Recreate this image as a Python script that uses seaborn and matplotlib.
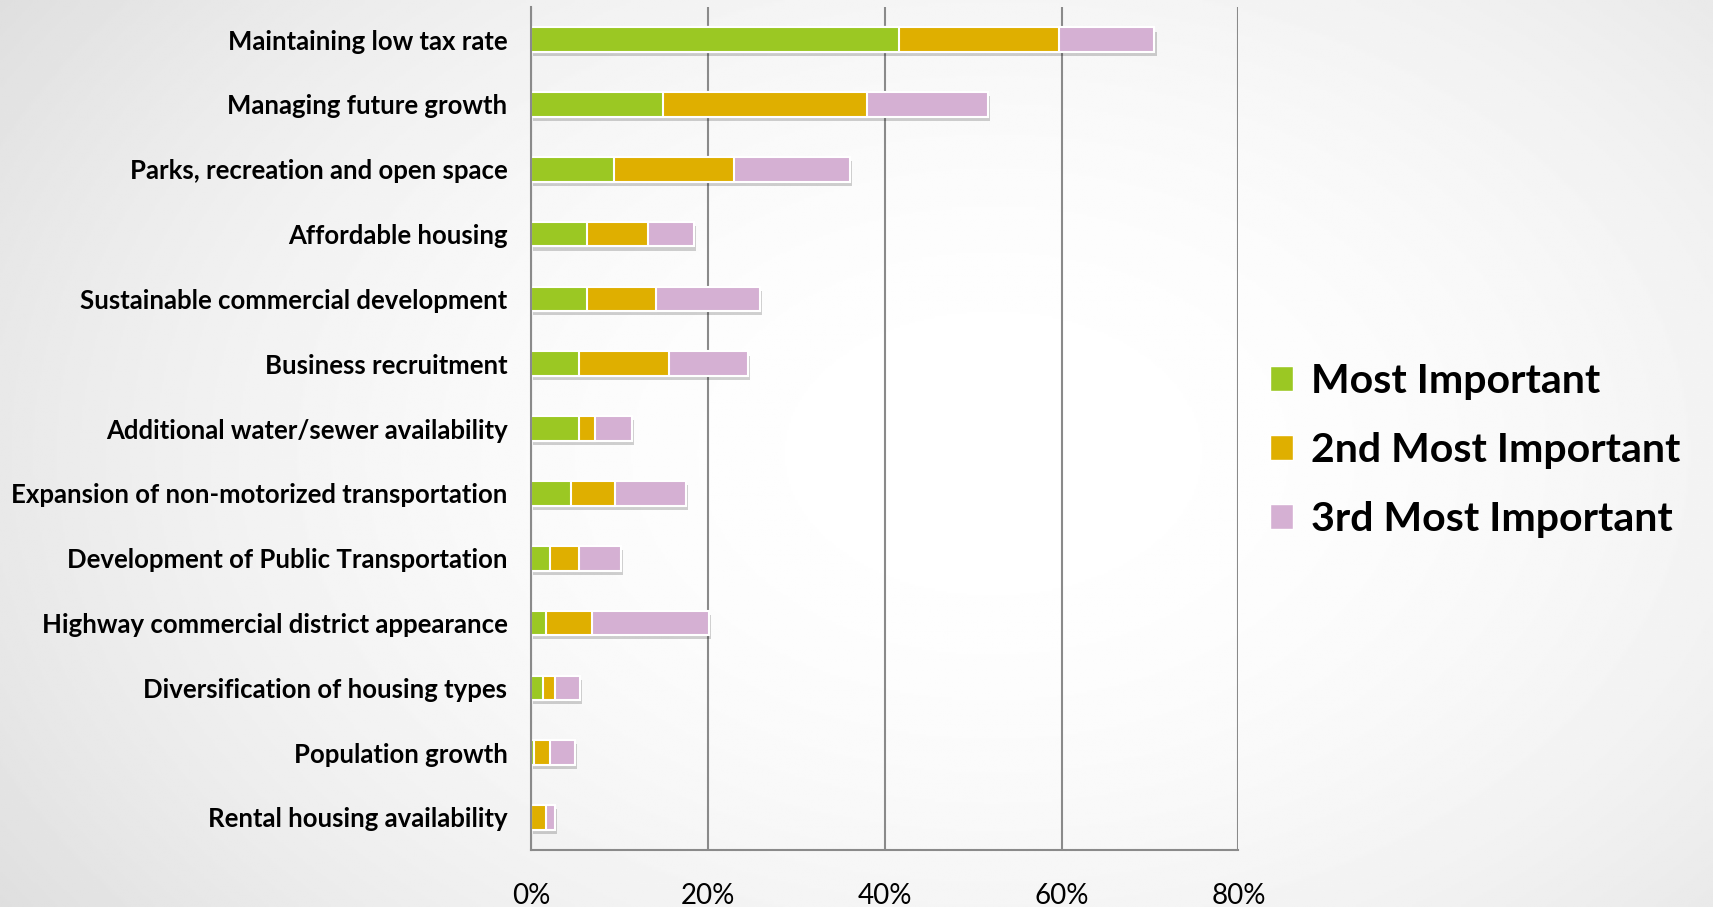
import numpy as np
import pandas as pd
import matplotlib.pyplot as plt
import matplotlib.patheffects as pe
from matplotlib.patches import Patch
import seaborn as sns

# values (percent of respondents)
categories = [
    'Maintaining low tax rate',
    'Managing future growth',
    'Parks, recreation and open space',
    'Affordable housing',
    'Sustainable commercial development',
    'Business recruitment',
    'Additional water/sewer availability',
    'Expansion of non-motorized transportation',
    'Development of Public Transportation',
    'Highway commercial district appearance',
    'Diversification of housing types',
    'Population growth',
    'Rental housing availability',
]
most_important = [41.6, 14.9, 9.4, 6.3, 6.3, 5.4, 5.4, 4.5, 2.2, 1.7, 1.3, 0.3, 0.0]
second_important = [18.1, 23.1, 13.5, 6.9, 7.8, 10.2, 1.8, 5.0, 3.2, 5.2, 1.4, 1.9, 1.7]
third_important = [10.8, 13.7, 13.2, 5.2, 11.8, 8.9, 4.2, 8.0, 4.8, 13.2, 2.8, 2.8, 1.0]
series_names = ['Most Important', '2nd Most Important', '3rd Most Important']

green = '#9BC823'
orange = '#DFAF00'
pink = '#D5B0D3'
grey = '#8a8a8a'

sns.set_style('white')
plt.rcParams['font.family'] = ['Lato', 'DejaVu Sans']
plt.rcParams['text.color'] = 'black'
plt.rcParams['xtick.labelcolor'] = 'black'
plt.rcParams['ytick.labelcolor'] = 'black'

df = pd.DataFrame({
    'Category': categories,
    'Most': most_important,
    'Second': second_important,
    'Third': third_important,
})
df['c1'] = df['Most']
df['c2'] = df['c1'] + df['Second']
df['c3'] = df['c2'] + df['Third']

fig = plt.figure(figsize=(17.13, 9.07), dpi=100)

# soft radial background like the slide
bg = fig.add_axes([0, 0, 1, 1], zorder=-10)
yy, xx = np.mgrid[0:1:400j, 0:1:800j]
r = np.sqrt(((xx - 0.58) / 0.62) ** 2 + ((yy - 0.5) / 0.8) ** 2)
shade = 1 - 0.10 * np.clip(r, 0, 1.3) ** 2
bg.imshow(shade, cmap='gray', vmin=0, vmax=1, aspect='auto', extent=[0, 1, 0, 1])
bg.axis('off')

ax = fig.add_axes([0.31, 0.063, 0.413, 0.929])
ax.patch.set_alpha(0)

# stacked bars drawn as cumulative layers, back to front
sns.barplot(data=df, x='c3', y='Category', color=pink, width=0.38, saturation=1,
            edgecolor='white', linewidth=1.5, errorbar=None, ax=ax)
for p in ax.patches:
    p.set_path_effects([pe.SimplePatchShadow(offset=(1.5, -3), shadow_rgbFace='black', alpha=0.18),
                        pe.Normal()])
sns.barplot(data=df, x='c2', y='Category', color=orange, width=0.38, saturation=1,
            edgecolor='white', linewidth=1.5, errorbar=None, ax=ax)
sns.barplot(data=df, x='c1', y='Category', color=green, width=0.38, saturation=1,
            edgecolor='white', linewidth=1.5, errorbar=None, ax=ax)

ax.set_xlim(0, 80)
ax.set_ylim(12.5, -0.5)
ax.set_xticks([0, 20, 40, 60, 80])
ax.set_xticklabels([f'{v}%' for v in [0, 20, 40, 60, 80]])
ax.set_xlabel('')
ax.set_ylabel('')
ax.xaxis.grid(True, color=grey, lw=1.5)
ax.set_axisbelow(True)
for s in ['top', 'right']:
    ax.spines[s].set_visible(False)
for s in ['left', 'bottom']:
    ax.spines[s].set_color(grey)
    ax.spines[s].set_linewidth(1.5)

ax.set_yticks(np.arange(-0.5, 13, 1), minor=True)
ax.tick_params(axis='y', which='major', length=0, pad=17, labelsize=18.5, labelcolor='black')
ax.tick_params(axis='y', which='minor', length=7, color=grey, width=1.5, direction='out')
ax.tick_params(axis='x', length=8, color=grey, width=1.5, pad=16, labelsize=20,
               direction='out', labelcolor='black')
for lbl in ax.get_yticklabels():
    lbl.set_fontweight('bold')

handles = [Patch(facecolor=c, edgecolor='white') for c in [green, orange, pink]]
leg = fig.legend(handles, series_names, loc='center left', bbox_to_anchor=(0.72, 0.503),
                 frameon=False, prop={'weight': 'bold', 'size': 29.5},
                 handlelength=0.55, handleheight=0.55, handletextpad=0.45, labelspacing=0.78)
for t in leg.get_texts():
    t.set_color('black')

fig.savefig('out.png', dpi=100)
